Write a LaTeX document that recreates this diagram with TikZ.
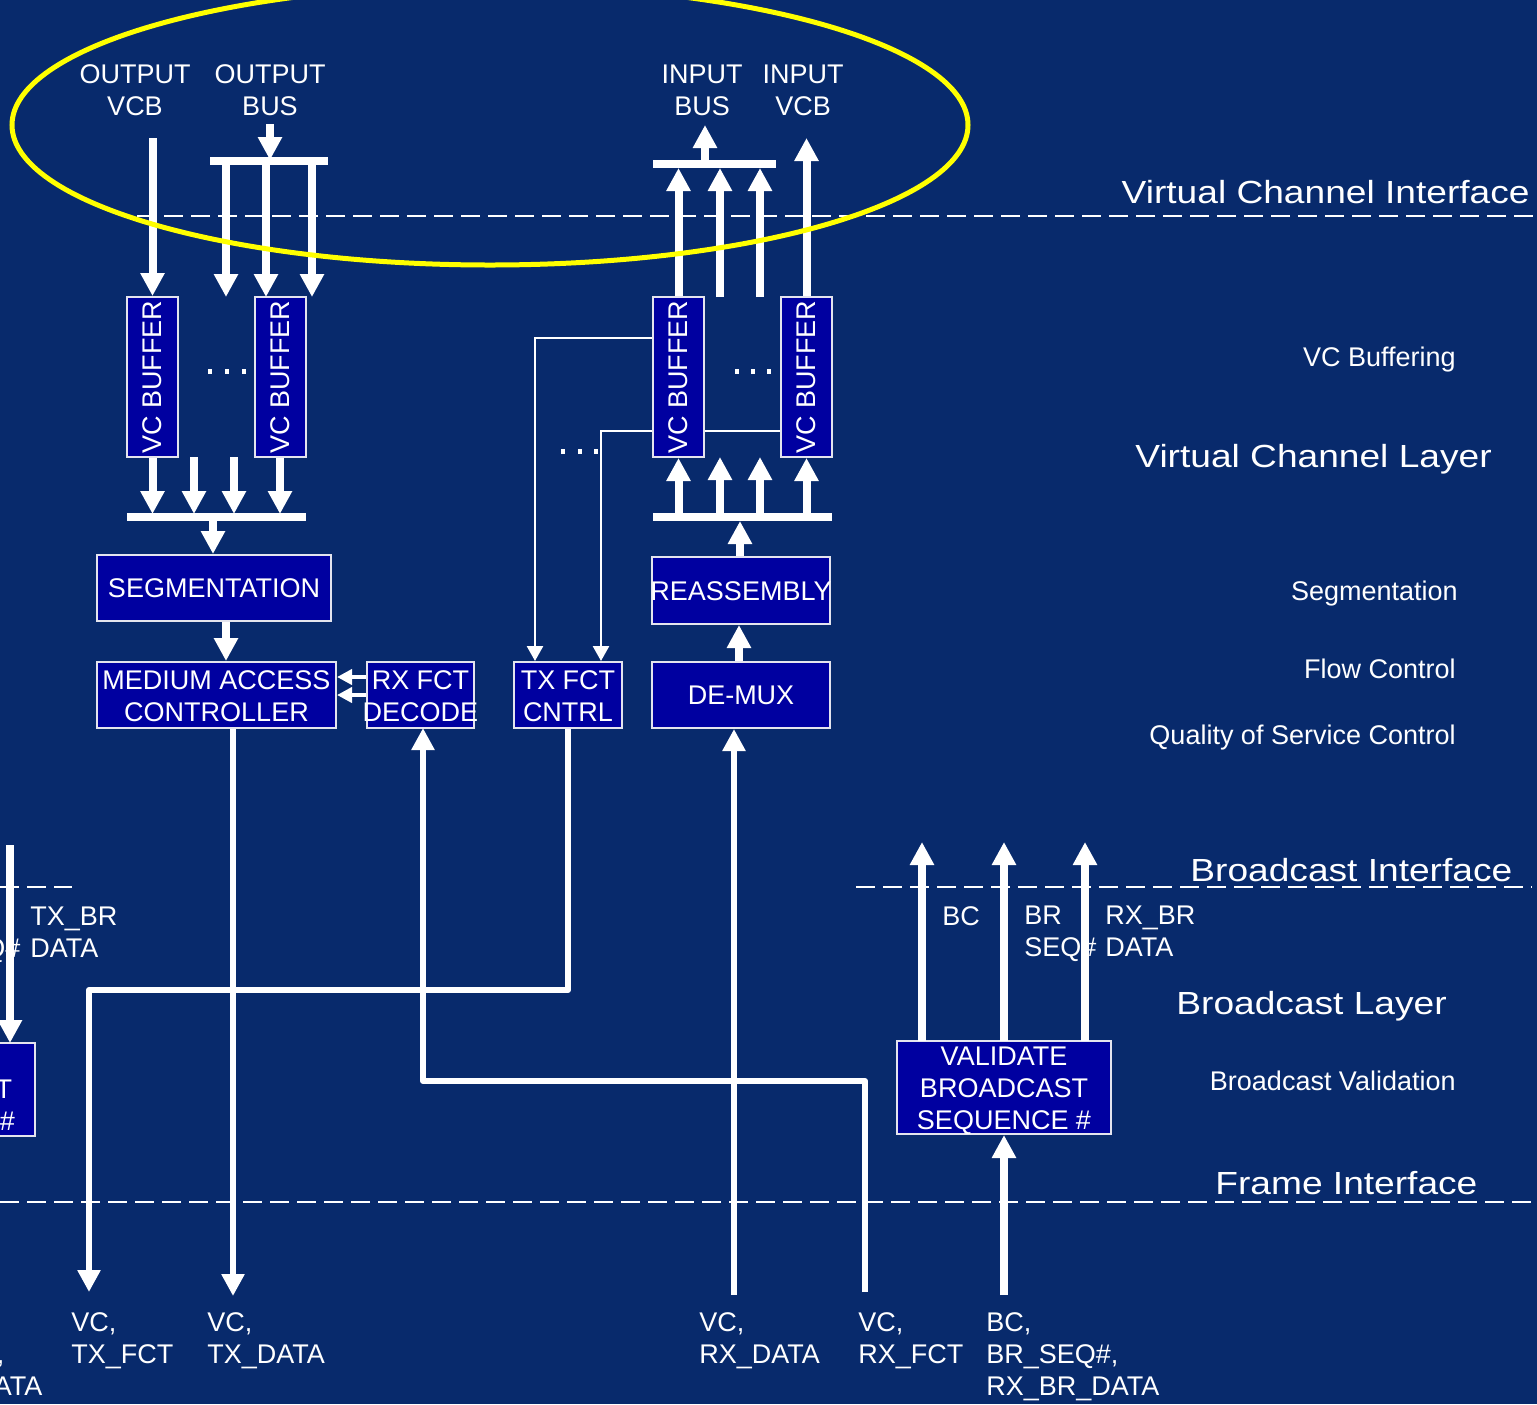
\documentclass[tikz,border=0pt]{standalone}
\usepackage{fontspec}
\setmainfont{Liberation Sans}
\newfontfamily\widefont[FakeStretch=1.16]{Liberation Sans}
\usetikzlibrary{arrows.meta}
\definecolor{bgnavy}{RGB}{8,42,108}
\definecolor{boxblue}{RGB}{0,0,160}
\definecolor{edgegray}{RGB}{228,228,238}
\tikzset{
 txt/.style={text=white, font=\fontsize{13.5}{16}\selectfont, inner sep=0pt, align=left},
 big/.style={text=white, font=\widefont\fontsize{16}{19}\selectfont, inner sep=0pt},
 blk/.style={draw=edgegray, line width=1pt, fill=boxblue, inner sep=0pt},
 blabel/.style={text=white, font=\fontsize{13.5}{16}\selectfont, inner sep=0pt, align=center},
 tharr/.style={draw=white, line width=4pt, -{Triangle[length=11.5pt,width=11.5pt]}},
 bar/.style={draw=white, line width=4pt},
 medarr/.style={draw=white, line width=3pt, line join=round, -{Triangle[length=11pt,width=11pt]}},
 thinarr/.style={draw=white, line width=1.3pt, -{Triangle[length=7.5pt,width=8pt]}},
 thinline/.style={draw=white, line width=1.3pt},
 smarr/.style={draw=white, line width=2pt, -{Triangle[length=7.5pt,width=7.5pt]}},
 ifline/.style={draw=white, line width=1pt, dash pattern=on 9.5pt off 4pt},
}
\begin{document}
\begin{tikzpicture}[x=0.5pt,y=-0.5pt]
\useasboundingbox (0,0) rectangle (1537,1404);
\clip (0,0) rectangle (1537,1404);
\fill[bgnavy] (0,0) rectangle (1537,1404);

% interface lines
\draw[ifline] (137,216) -- (1537,216);
\draw[ifline] (856,887) -- (1532,887);
\draw[ifline] (0,887) -- (72,887);
\draw[ifline] (0,1202) -- (1537,1202);

% right-hand labels
\node[big, anchor=north east] (vci) at (1530,180) {Virtual Channel Interface};
\node[big, anchor=north west] (vcl) at (1135,444) {Virtual Channel Layer};
\node[big, anchor=north west] (bci) at (1190,858) {Broadcast Interface};
\node[big, anchor=north west] (bcl) at (1176,991) {Broadcast Layer};
\node[big, anchor=north west] (fri) at (1215,1171) {Frame Interface};
\node[txt, anchor=north east] (l1) at (1456,347) {VC Buffering};
\node[txt, anchor=north east] (l2) at (1458,581) {Segmentation};
\node[txt, anchor=north east] (l3) at (1456,659) {Flow Control};
\node[txt, anchor=north east] (l4) at (1456,725) {Quality of Service Control};
\node[txt, anchor=north east] (l5) at (1456,1071) {Broadcast Validation};

% top labels
\node[txt, align=center, anchor=north] (ovcb) at (135,64) {OUTPUT\\VCB};
\node[txt, align=center, anchor=north] (obus) at (270,64) {OUTPUT\\BUS};
\node[txt, align=center, anchor=north] (ibus) at (702,65) {INPUT\\BUS};
\node[txt, align=center, anchor=north] (ivcb) at (803,65) {INPUT\\VCB};

% broadcast labels
\node[txt, anchor=north west] (bc) at (942,906) {BC};
\node[txt, anchor=north west] (brs) at (1024,906) {BR\\SEQ\#};
\node[txt, anchor=north west] (rxbr) at (1105,906) {RX\_BR\\DATA};
\node[txt, anchor=north west] (lbrs) at (-52,906.5) {BR\\SEQ\#};
\node[txt, anchor=north west] (txbr) at (30,906.5) {TX\_BR\\DATA};

% bottom labels
\node[txt, anchor=north west] (b0) at (-128,1312.5) {BC,\\BR\_SEQ\#,\\TX\_BR\_DATA};
\node[txt, anchor=north west] (b1) at (71,1312.5) {VC,\\TX\_FCT};
\node[txt, anchor=north west] (b2) at (207,1312.5) {VC,\\TX\_DATA};
\node[txt, anchor=north west] (b3) at (699,1312.5) {VC,\\RX\_DATA};
\node[txt, anchor=north west] (b4) at (858,1312.5) {VC,\\RX\_FCT};
\node[txt, anchor=north west] (b5) at (986,1312.5) {BC,\\BR\_SEQ\#,\\RX\_BR\_DATA};

% boxes
\node[blk, minimum width=25.5pt, minimum height=80pt, label={[blabel,rotate=90]center:VC BUFFER}] (buf1) at (152.5,377) {};
\node[blk, minimum width=25.5pt, minimum height=80pt, label={[blabel,rotate=90]center:VC BUFFER}] (buf2) at (280,377) {};
\node[blk, minimum width=25.5pt, minimum height=80pt, label={[blabel,rotate=90]center:VC BUFFER}] (buf3) at (678.5,377) {};
\node[blk, minimum width=25.5pt, minimum height=80pt, label={[blabel,rotate=90]center:VC BUFFER}] (buf4) at (806.5,377) {};
\node[blk, minimum width=117pt, minimum height=33pt, label={[blabel]center:SEGMENTATION}] (seg) at (214,588) {};
\node[blk, minimum width=119.5pt, minimum height=33pt, label={[blabel,yshift=-0.5pt]center:MEDIUM ACCESS\\CONTROLLER}] (mac) at (216.5,695) {};
\node[blk, minimum width=53.5pt, minimum height=33pt, label={[blabel,yshift=-0.5pt]center:RX FCT\\DECODE}] (rxd) at (420.5,695) {};
\node[blk, minimum width=54pt, minimum height=33pt, label={[blabel,yshift=-0.5pt]center:TX FCT\\CNTRL}] (txc) at (568,695) {};
\node[blk, minimum width=89pt, minimum height=33.5pt, label={[blabel,yshift=-0.5pt]center:REASSEMBLY}] (reas) at (741,590.5) {};
\node[blk, minimum width=89pt, minimum height=33pt, label={[blabel]center:DE-MUX}] (dmx) at (741,695) {};
\node[blk, minimum width=107pt, minimum height=46.5pt, label={[blabel,yshift=-1.5pt]center:VALIDATE\\BROADCAST\\SEQUENCE \#}] (val) at (1004,1087.5) {};
\node[blk, minimum width=107pt, minimum height=46.5pt, label={[blabel,yshift=-9pt]center:BROADCAST\\SEQUENCE \#}] (lbox) at (-72,1089.5) {};

% dots
\foreach \x in {210,227,244,737,753,769} \fill[white] (\x-2,369) rectangle (\x+2,374);
\foreach \x in {563,580,596} \fill[white] (\x-2,449) rectangle (\x+2,454);

% top-left connectors
\coordinate (ovcbT) at (152.5,138);
\draw[tharr] (ovcbT) -- (buf1.north);
\draw[bar] (210,161) coordinate (obL) -- (328,161) coordinate (obR);
\draw[tharr] (270,124) -- (270,160);
\draw[tharr] (226,161) -- (226,297);
\draw[tharr] (266,161) -- (266,297);
\draw[tharr] (312,161) -- (312,297);

\draw[bar] (127,517) -- (306,517);
\draw[tharr] (buf1.south) -- (152.5,514);
\draw[tharr] (194,457) -- (194,514);
\draw[tharr] (234,457) -- (234,514);
\draw[tharr] (buf2.south) -- (280,514);
\coordinate (segIn) at (213,517);
\draw[tharr] (segIn) -- (segIn |- seg.north);
\coordinate (segOut) at (226,621);
\draw[tharr] (segOut |- seg.south) -- (segOut |- mac.north);
\coordinate (r1) at (367,677);
\coordinate (r2) at (367,695);
\draw[smarr] (r1 -| rxd.west) -- (r1 -| mac.east);
\draw[smarr] (r2 -| rxd.west) -- (r2 -| mac.east);

% top-right connectors
\draw[bar] (653,164) -- (776,164);
\draw[tharr] (705,164) -- (705,125);
\draw[tharr] (buf3.north) -- (678.5,168);
\draw[tharr] (720,297) -- (720,168);
\draw[tharr] (760,297) -- (760,168);
\coordinate (ivcbT) at (806.5,138);
\draw[tharr] (buf4.north) -- (ivcbT);

\draw[bar] (653,517) -- (832,517);
\draw[tharr] (678.5,514) -- (buf3.south);
\draw[tharr] (720,514) -- (720,457);
\draw[tharr] (760,514) -- (760,457);
\draw[tharr] (806.5,514) -- (buf4.south);
\coordinate (reasT) at (740,521);
\draw[tharr] (reasT |- reas.north) -- (reasT);
\coordinate (dmxT) at (739,662);
\draw[tharr] (dmxT |- dmx.north) -- (dmxT |- reas.south);

% flow control thin lines
\coordinate (f1) at (535,338);
\draw[thinarr] (f1 -| buf3.west) -| (f1 |- txc.north);
\coordinate (f2) at (601,431);
\draw[thinline] (f2 -| buf4.west) -- (f2 -| buf3.east);
\draw[thinarr] (f2 -| buf3.west) -| (f2 |- txc.north);

% frame-side connectors
\coordinate (macO) at (233,728);
\draw[medarr] (macO |- mac.south) -- (233,1296);
\coordinate (txO) at (568,990);
\draw[medarr] (txO |- txc.south) -- (txO) -| (89,1292);
\coordinate (rxI) at (865,1081);
\draw[medarr] (865,1292) -- (rxI) -| (423,728);
\coordinate (dmI) at (734,1295);
\draw[medarr] (dmI) -- (dmI |- dmx.south);
\coordinate (valI) at (1004,1295);
\draw[tharr] (valI) -- (valI |- val.south);
\foreach \x in {922,1004,1085} \draw[tharr] (\x,1041) -- (\x,842);
\draw[tharr] (10,845) -- (10,1043);

% highlight ellipse
\draw[draw={rgb,255:red,255;green,255;blue,0}, line width=2.5pt] (490,125) ellipse [x radius=478, y radius=140];
\end{tikzpicture}
\end{document}
